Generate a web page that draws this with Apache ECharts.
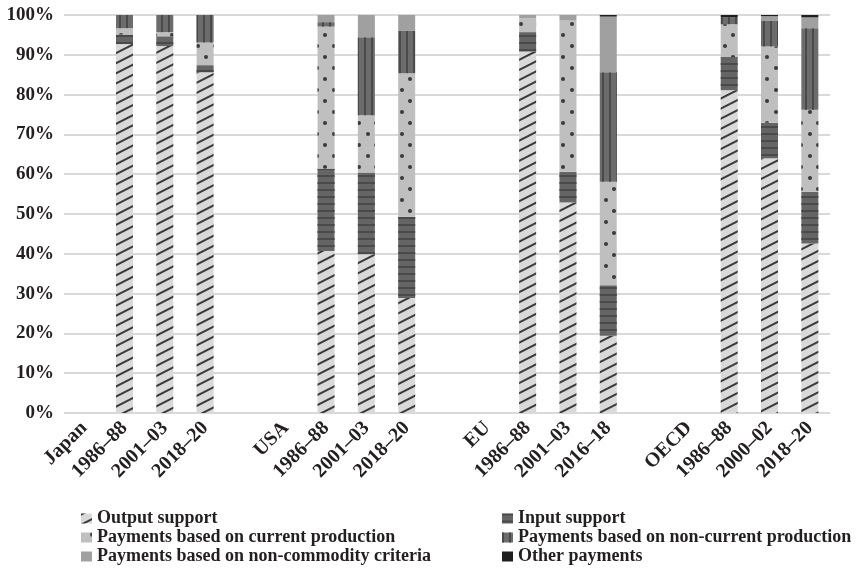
<!DOCTYPE html>
<html>
<head>
<meta charset="utf-8">
<script src="https://cdn.jsdelivr.net/npm/echarts@6/dist/echarts.min.js"></script>
<style>
html,body{margin:0;padding:0;background:#fff;}
#chart{width:865px;height:569px;}
</style>
</head>
<body>
<div id="chart"></div>
<script>
var categories = ['Japan','1986–88','2001–03','2018–20','', 'USA','1986–88','2001–03','2018–20','', 'EU','1986–88','2001–03','2016–18','', 'OECD','1986–88','2000–02','2018–20'];
var yTicks = [0,10,20,30,40,50,60,70,80,90,100];

var outputSupport   = [null,92.7,92.2,85.6,null, null,40.7,39.9,28.9,null, null,90.8,52.9,19.4,null, null,81.1,64.0,42.6];
var inputSupport    = [null, 2.4, 2.4, 1.8,null, null,20.7,20.5,20.4,null, null, 4.9, 7.7,12.7,null, null, 8.3, 8.9,13.0];
var currentProd     = [null, 1.6, 1.1, 5.7,null, null,35.7,14.4,36.1,null, null, 3.5,38.0,26.0,null, null, 8.3,19.2,20.6];
var nonCurrentProd  = [null, 3.3, 4.3, 6.9,null, null, 1.1,19.6,10.6,null, null, 0.0, 0.0,27.5,null, null, 1.7, 6.4,20.5];
var nonCommodity    = [null, 0.0, 0.0, 0.0,null, null, 1.8, 5.6, 4.0,null, null, 0.8, 1.4,14.0,null, null, 0.0, 1.2, 2.7];
var otherPayments   = [null, 0.0, 0.0, 0.0,null, null, 0.0, 0.0, 0.0,null, null, 0.0, 0.0, 0.4,null, null, 0.6, 0.3, 0.6];

var names = ['Output support','Input support','Payments based on current production','Payments based on non-current production','Payments based on non-commodity criteria','Other payments'];

var FONT = 'Liberation Serif';
var TXT = '#231f20';

var styles = [
  {color:'#d9d9d9', decal:{symbol:'rect', symbolSize:1, color:'#3a3a3a', dashArrayX:[1,0], dashArrayY:[1.5,7], rotation:-Math.PI*0.15}},
  {color:'#656565', decal:{symbol:'rect', symbolSize:1, color:'#4a4a4a', dashArrayX:[1,0], dashArrayY:[1.2,4.4], rotation:0}},
  {color:'#bfbfbf', decal:{symbol:'circle', symbolSize:1, color:'#3a3a3a', dashArrayX:[[3.4,12.6],[0,9,3.4,3.6]], dashArrayY:[3.4,6.2], rotation:0}},
  {color:'#6c6c6c', decal:{symbol:'rect', symbolSize:1, color:'#4a4a4a', dashArrayX:[1.3,4.3], dashArrayY:[1,0], rotation:0}},
  {color:'#a0a0a0'},
  {color:'#1e1e1e'}
];
var dataSets = [outputSupport, inputSupport, currentProd, nonCurrentProd, nonCommodity, otherPayments];

var series = names.map(function(n,i){
  return {
    name:n, type:'bar', stack:'total', barWidth:17,
    itemStyle: styles[i],
    data: dataSets[i]
  };
});

var legendText = {fontFamily:FONT, fontWeight:'bold', fontSize:18, color:TXT, lineHeight:19};

var chart = echarts.init(document.getElementById('chart'), null, {renderer:'canvas'});
chart.setOption({
  animation:false,
  backgroundColor:'#fff',
  grid:{left:64, right:35, top:15, bottom:156, containLabel:false},
  legend:[
    {orient:'vertical', left:76, top:504, height:100, itemWidth:11, itemHeight:10, itemGap:0, icon:'rect',
     textStyle:legendText, data:[names[0],names[2],names[4]], selectedMode:false},
    {orient:'vertical', left:497, top:504, height:100, itemWidth:11, itemHeight:10, itemGap:0, icon:'rect',
     textStyle:legendText, data:[names[1],names[3],names[5]], selectedMode:false}
  ],
  xAxis:{
    type:'category', data:categories,
    axisLine:{show:false}, axisTick:{show:false},
    axisLabel:{interval:0, rotate:45, margin:12, fontFamily:FONT, fontWeight:'bold', fontSize:20, color:TXT}
  },
  yAxis:{
    type:'value', min:yTicks[0], max:yTicks[yTicks.length-1], interval:10,
    axisLine:{show:false}, axisTick:{show:false},
    axisLabel:{formatter:'{value}%', margin:10, fontFamily:FONT, fontWeight:'bold', fontSize:19, color:TXT},
    splitLine:{lineStyle:{color:'#d9d9d9', width:2}}
  },
  series:series
});
</script>
</body>
</html>
